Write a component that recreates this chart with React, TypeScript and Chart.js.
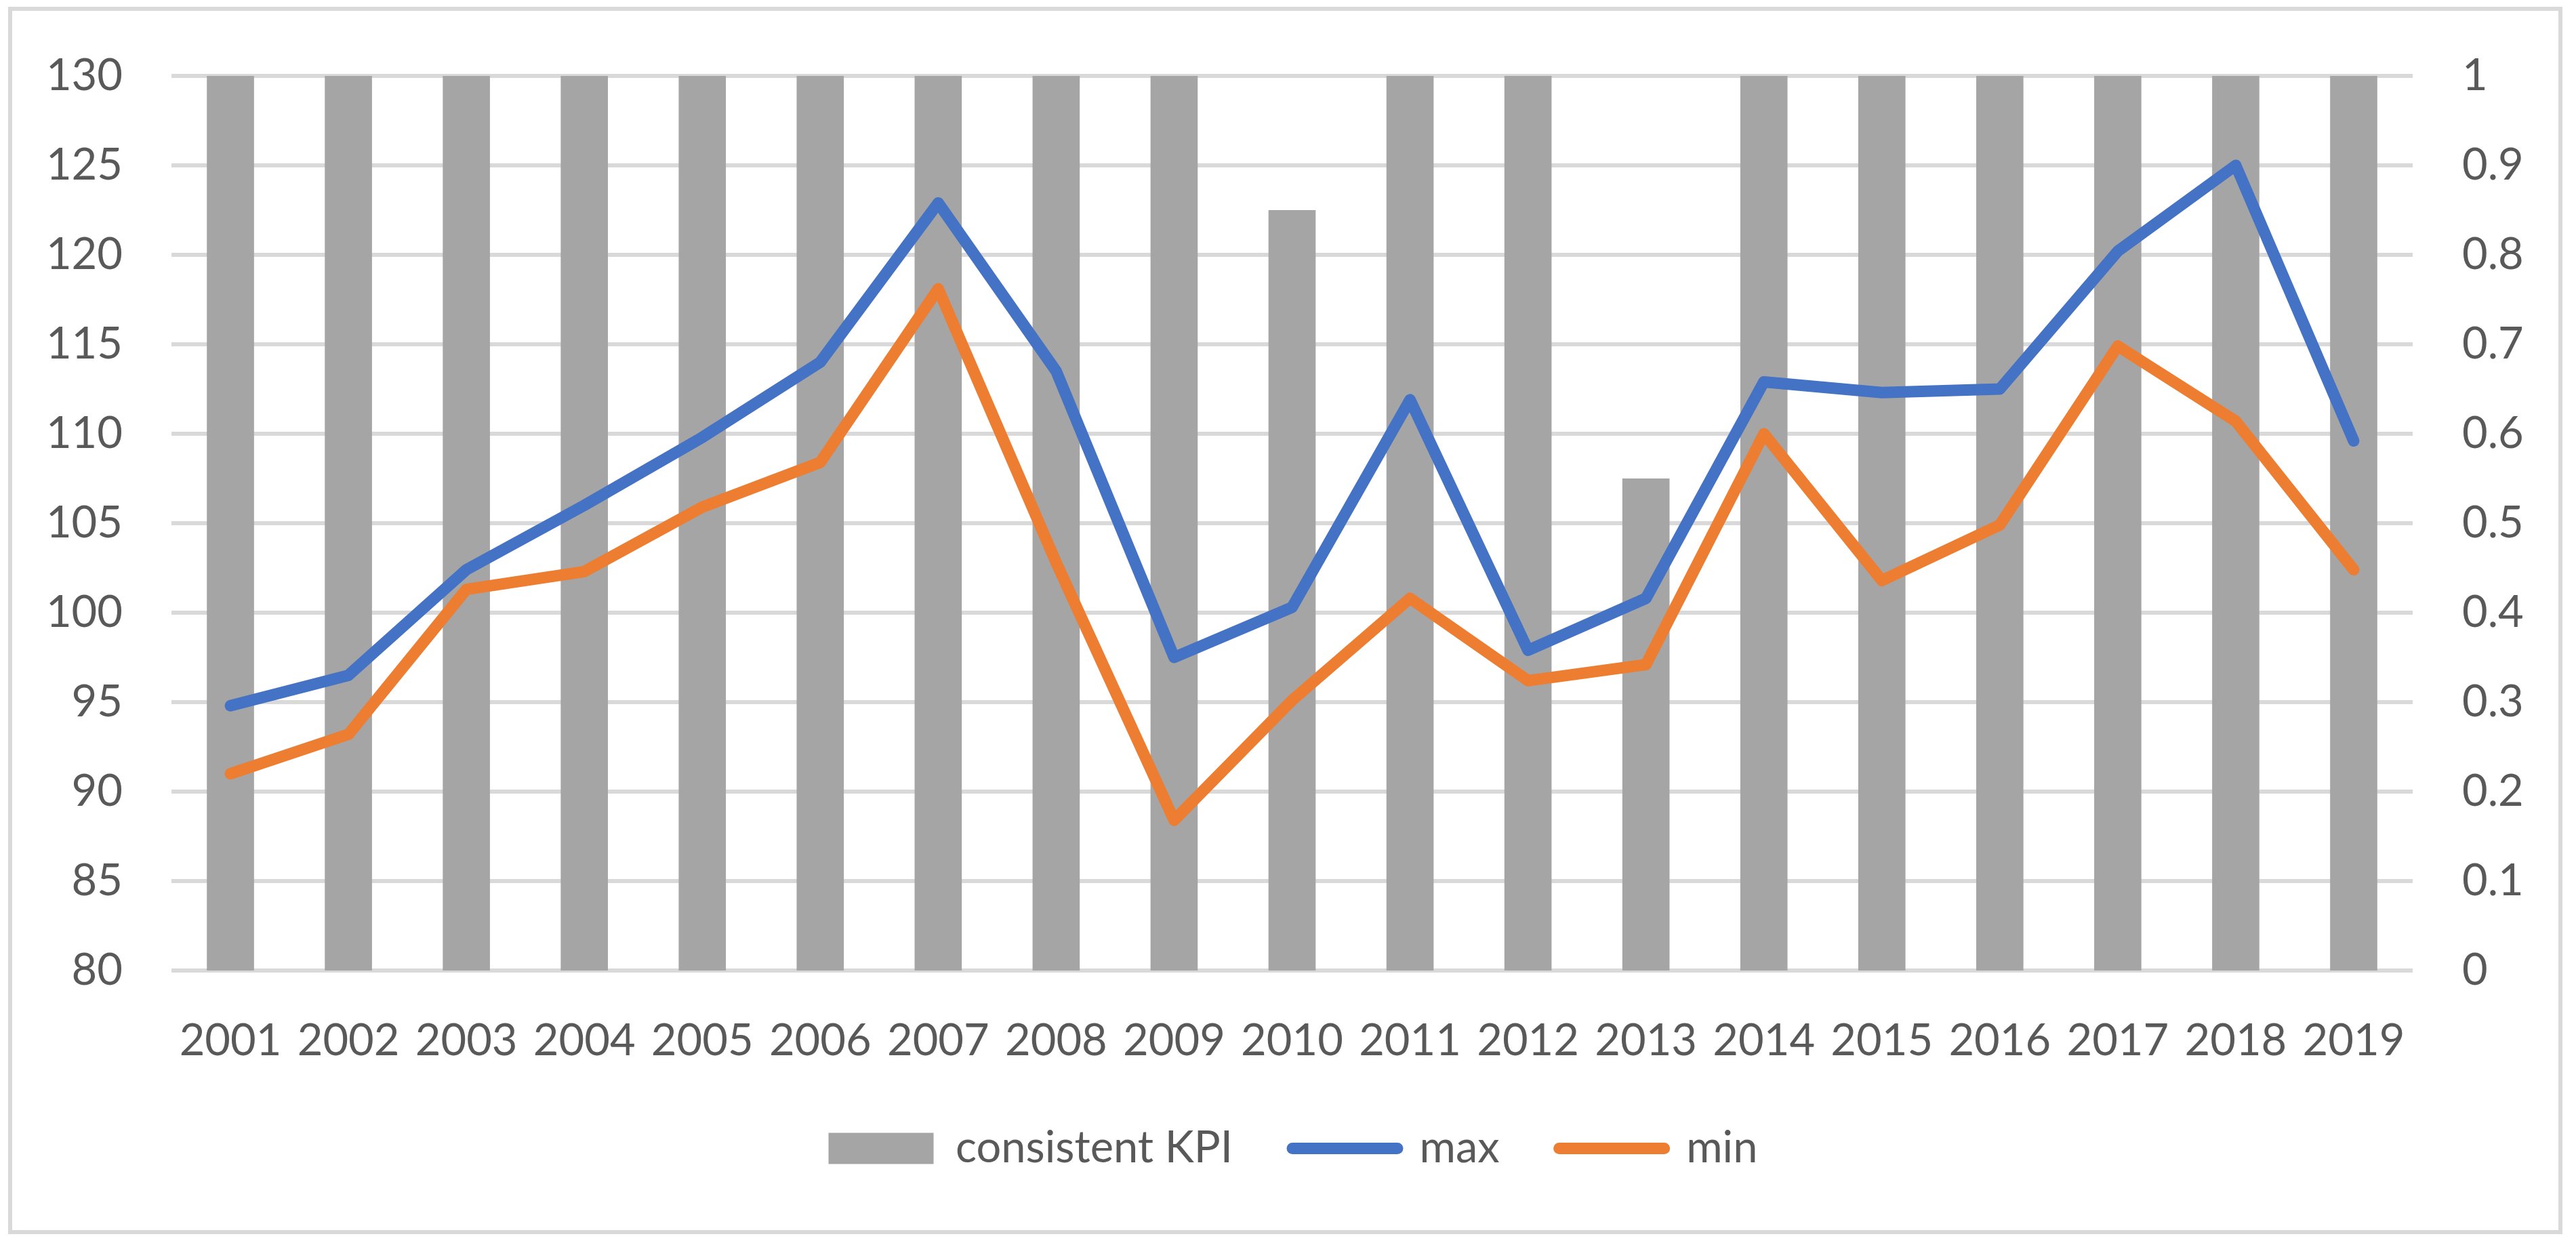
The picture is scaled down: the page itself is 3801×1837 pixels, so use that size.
import React, { useEffect, useRef } from "react";
import { Chart, registerables } from "chart.js";

Chart.register(...registerables);

const years = ["2001", "2002", "2003", "2004", "2005", "2006", "2007", "2008", "2009", "2010", "2011", "2012", "2013", "2014", "2015", "2016", "2017", "2018", "2019"];
const kpiValues = [1, 1, 1, 1, 1, 1, 1, 1, 1, 0.85, 1, 1, 0.55, 1, 1, 1, 1, 1, 1];
const maxValues = [94.8, 96.5, 102.4, 106.0, 109.8, 114.0, 122.9, 113.5, 97.5, 100.3, 111.9, 97.9, 100.8, 112.9, 112.3, 112.5, 120.2, 125.0, 109.6];
const minValues = [91.0, 93.2, 101.3, 102.3, 105.9, 108.4, 118.1, 102.8, 88.4, 95.1, 100.8, 96.2, 97.1, 110.0, 101.8, 104.9, 114.9, 110.7, 102.4];
const seriesNames = ["consistent KPI", "max", "min"];

const W = 3801;
const H = 1837;
const FONT = "Lato";
const FS = 65;
const TEXT = "#595959";
const GRID = "#d9d9d9";
const BAR = "#a5a5a5";
const BLUE = "#4472c4";
const ORANGE = "#ed7d31";

const borderPlugin = {
  id: "outerBorder",
  beforeDraw(chart: any) {
    const ctx = chart.ctx;
    ctx.save();
    ctx.fillStyle = "#ffffff";
    ctx.fillRect(0, 0, chart.width, chart.height);
    ctx.strokeStyle = GRID;
    ctx.lineWidth = 6;
    ctx.strokeRect(15, 13, chart.width - 38, chart.height - 32);
    ctx.restore();
  },
};

export default function App() {
  const ref = useRef<HTMLCanvasElement | null>(null);

  useEffect(() => {
    if (!ref.current) return;
    const chart = new Chart(ref.current, {
      type: "bar",
      data: {
        labels: years,
        datasets: [
          {
            type: "bar",
            label: seriesNames[0],
            data: kpiValues,
            backgroundColor: BAR,
            yAxisID: "y1",
            order: 2,
            barPercentage: 0.4,
            categoryPercentage: 1,
          },
          {
            type: "line",
            label: seriesNames[1],
            data: maxValues,
            borderColor: BLUE,
            backgroundColor: BLUE,
            borderWidth: 17,
            pointRadius: 0,
            borderJoinStyle: "round",
            borderCapStyle: "round",
            tension: 0,
            yAxisID: "y",
            order: 1,
          },
          {
            type: "line",
            label: seriesNames[2],
            data: minValues,
            borderColor: ORANGE,
            backgroundColor: ORANGE,
            borderWidth: 17,
            pointRadius: 0,
            borderJoinStyle: "round",
            borderCapStyle: "round",
            tension: 0,
            yAxisID: "y",
            order: 0,
          },
        ] as any,
      },
      options: {
        responsive: false,
        animation: false,
        devicePixelRatio: 1,
        layout: { padding: { left: 15, right: 0, top: 106, bottom: 100 } },
        plugins: {
          tooltip: { enabled: false },
          legend: {
            position: "bottom",
            labels: {
              color: TEXT,
              font: { family: FONT, size: FS },
              usePointStyle: true,
              pointStyleWidth: 155,
              boxWidth: 155,
              boxHeight: 46,
              padding: 88,
              generateLabels: (c: any) =>
                c.data.datasets.map((ds: any, i: number) => ({
                  text: ds.label,
                  fillStyle: i === 0 ? BAR : ds.borderColor,
                  strokeStyle: i === 0 ? BAR : ds.borderColor,
                  lineWidth: i === 0 ? 0 : 17,
                  lineCap: "round",
                  pointStyle: i === 0 ? "rect" : "line",
                  fontColor: TEXT,
                  hidden: false,
                  datasetIndex: i,
                })),
            },
          },
        },
        scales: {
          x: {
            grid: { display: false },
            border: { display: false },
            ticks: {
              color: TEXT,
              font: { family: FONT, size: FS },
              padding: 57,
              autoSkip: false,
              maxRotation: 0,
              minRotation: 0,
            },
            afterFit: (s: any) => {
              s.height = s.height - 58;
            },
          },
          y: {
            position: "left",
            min: 80,
            max: 130,
            grid: { color: GRID, lineWidth: 6, drawTicks: false },
            border: { display: false },
            ticks: {
              stepSize: 5,
              color: TEXT,
              font: { family: FONT, size: FS },
              padding: 72,
            },
            afterFit: (s: any) => {
              s.width = 238;
            },
          },
          y1: {
            position: "right",
            min: 0,
            max: 1,
            grid: { display: false, drawTicks: false },
            border: { display: false },
            ticks: {
              stepSize: 0.1,
              color: TEXT,
              font: { family: FONT, size: FS },
              padding: 73,
              callback: (v: any) => String(Number(Number(v).toFixed(1))),
            },
            afterFit: (s: any) => {
              s.width = 241;
            },
          },
        },
      },
      plugins: [borderPlugin],
    });
    return () => chart.destroy();
  }, []);

  return (
    <div style={{ position: "absolute", left: 0, top: 0, width: W, height: H, background: "#fff" }}>
      <canvas ref={ref} width={W} height={H} style={{ display: "block", width: W, height: H }} />
    </div>
  );
}
